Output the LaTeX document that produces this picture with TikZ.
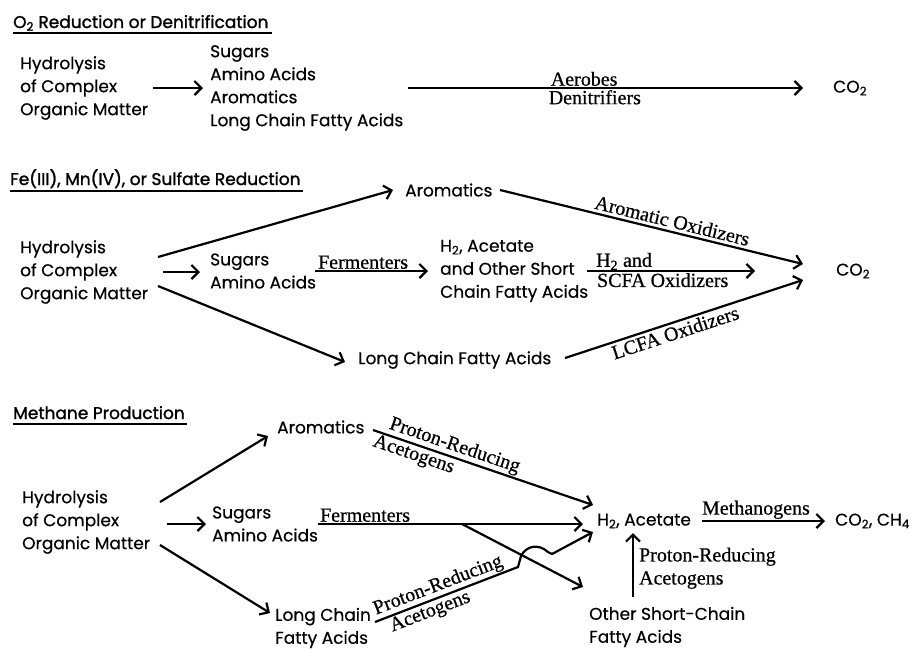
\documentclass[tikz,border=0pt]{standalone}
\usepackage{fontspec}
\setmainfont[FakeBold=0.4]{Poppins}
\newfontfamily\labfont[FakeBold=0.6]{Liberation Serif}
\newfontfamily\titfont[FakeBold=1.4]{Poppins}
\usetikzlibrary{arrows.meta}
\begin{document}
\begin{tikzpicture}[x=1pt,y=-1pt,
  txt/.style={inner sep=2pt, align=left, font=\fontsize{17}{23}\selectfont},
  lab/.style={font=\labfont\fontsize{20}{22}\selectfont, inner sep=1pt},
  arr/.style={line width=2.2pt, -{Straight Barb[length=7pt,width=14pt,line width=2.2pt]}},
  ttl/.style={inner sep=0pt, anchor=base west, font=\titfont\fontsize{17}{20}\selectfont},
  uline/.style={line width=1.6pt},
]
\useasboundingbox[fill=white] (0,0) rectangle (918,649);

% ---------- Section 1 ----------
\node[ttl] (t1) at (13,28) {O\textsubscript{2} Reduction or Denitrification};
\draw[uline] ([yshift=-5pt]t1.base west) -- ([shift={(3pt,-5pt)}]t1.base east);
\node[txt, anchor=west] (hyd1) at (18,88) {Hydrolysis\\of Complex\\Organic Matter};
\node[txt, anchor=west] (sug1) at (208,88) {Sugars\\Amino Acids\\Aromatics\\Long Chain Fatty Acids};
\node[txt, anchor=west] (co2a) at (831,88) {CO\textsubscript{2}};
\draw[arr] ([xshift=135pt]hyd1.west) -- ([xshift=-5pt]sug1.west);
\draw[arr] ([xshift=200pt]sug1.west) --
  node[lab, above, pos=0.446] {Aerobes}
  node[lab, below, pos=0.473] {Denitrifiers}
  ([xshift=-28pt]co2a.west);

% ---------- Section 2 ----------
\node[ttl] (t2) at (10,185) {Fe(III), Mn(IV), or Sulfate Reduction};
\draw[uline] ([yshift=-6pt]t2.base west) -- ([shift={(2pt,-6pt)}]t2.base east);
\node[txt, anchor=west] (hyd2) at (18,272) {Hydrolysis\\of Complex\\Organic Matter};
\node[txt, anchor=west] (sug2) at (208,271) {Sugars\\Amino Acids};
\node[txt, anchor=west] (arom2) at (403,190) {Aromatics};
\node[txt, anchor=west] (h2a) at (438,271) {H\textsubscript{2}, Acetate\\and Other Short\\Chain Fatty Acids};
\node[txt, anchor=west] (lcfa2) at (356,360) {Long Chain Fatty Acids};
\node[txt, anchor=west] (co2b) at (834,271) {CO\textsubscript{2}};
\draw[arr] ([shift={(145pt,0pt)}]hyd2.west) -- ([xshift=-8pt]sug2.west |- hyd2.west);
\draw[arr] ([shift={(140pt,15pt)}]hyd2.west) -- ([xshift=-10pt]arom2.west);
\draw[arr] ([shift={(140pt,-14pt)}]hyd2.west) -- ([shift={(-11pt,-2pt)}]lcfa2.west);
\draw[arr] ([xshift=107pt]sug2.west) --
  node[lab, above right, pos=0, xshift=1pt] {Fermenters}
  ([xshift=-10pt]h2a.west);
\draw[arr] ([xshift=149pt]h2a.west) --
  node[lab, above right, pos=0, xshift=8pt, inner sep=0pt] {H\textsubscript{2} and}
  node[lab, below right, pos=0, xshift=8pt] {SCFA Oxidizers}
  ([xshift=-79pt]co2b.west);
\draw[arr] ([xshift=97pt]arom2.west) --
  node[lab, above, sloped, pos=0.56, inner sep=3pt] {Aromatic Oxidizers}
  ([shift={(-31pt,7pt)}]co2b.west);
\draw[arr] ([shift={(209pt,2pt)}]lcfa2.west) --
  node[lab, below, sloped, pos=0.45, inner sep=2pt] {LCFA Oxidizers}
  ([shift={(-31pt,-9pt)}]co2b.west);

% ---------- Section 3 ----------
\node[ttl] (t3) at (13,419) {Methane Production};
\draw[uline] ([yshift=-5pt]t3.base west) -- ([shift={(2pt,-5pt)}]t3.base east);
\node[txt, anchor=west] (hyd3) at (20,522) {Hydrolysis\\of Complex\\Organic Matter};
\node[txt, anchor=west] (arom3) at (275,427) {Aromatics};
\node[txt, anchor=west] (sug3) at (210,524) {Sugars\\Amino Acids};
\node[txt, anchor=west] (lc3) at (273,628) {Long Chain\\Fatty Acids};
\node[txt, anchor=west] (h2c) at (595,521) {H\textsubscript{2}, Acetate};
\node[txt, anchor=west] (co2c) at (833,521) {CO\textsubscript{2}, CH\textsubscript{4}};
\node[txt, anchor=west] (osc) at (587,627) {Other Short-Chain\\Fatty Acids};
\draw[arr] ([shift={(140pt,20pt)}]hyd3.west) -- ([shift={(-7pt,-9pt)}]arom3.west);
\draw[arr] ([shift={(147pt,-2pt)}]hyd3.west) -- ([xshift=-4pt]sug3.west);
\draw[arr] ([shift={(140pt,-23pt)}]hyd3.west) -- ([shift={(-3pt,15pt)}]lc3.west);
\draw[arr] ([xshift=108pt]sug3.west) --
  node[lab, above right, pos=0, xshift=0pt] {Fermenters}
  ([shift={(-12pt,-3pt)}]h2c.west);
\coordinate (br) at ([xshift=252pt]sug3.west);
\draw[arr] (br) -- ([shift={(-4pt,40pt)}]osc.west);
\draw[arr] ([shift={(98pt,-3pt)}]arom3.west) --
  node[lab, above, sloped, pos=0.355] {Proton-Reducing}
  node[lab, below, sloped, pos=0.2] {Acetogens}
  ([shift={(-2pt,16pt)}]h2c.west);
\draw[arr] ([shift={(102pt,6pt)}]lc3.west) --
  node[lab, above, sloped, pos=0.47] {Proton-Reducing}
  node[lab, below, sloped, pos=0.36] {Acetogens}
  (518,567) -- (521,556) .. controls (526,546) and (538,543) .. (548,552) -- (552,554) --
  ([shift={(-2pt,-11pt)}]h2c.west);
\draw[arr] ([xshift=107pt]h2c.west) --
  node[lab, above right, pos=0, xshift=-2pt] {Methanogens}
  ([xshift=-8pt]co2c.west);
\draw[arr] ([shift={(46pt,30pt)}]osc.west) --
  node[lab, right, pos=0.45, xshift=4pt, align=left, font=\labfont\fontsize{20}{23}\selectfont] {Proton-Reducing\\Acetogens}
  ([shift={(38pt,-12pt)}]h2c.west);
\end{tikzpicture}
\end{document}
